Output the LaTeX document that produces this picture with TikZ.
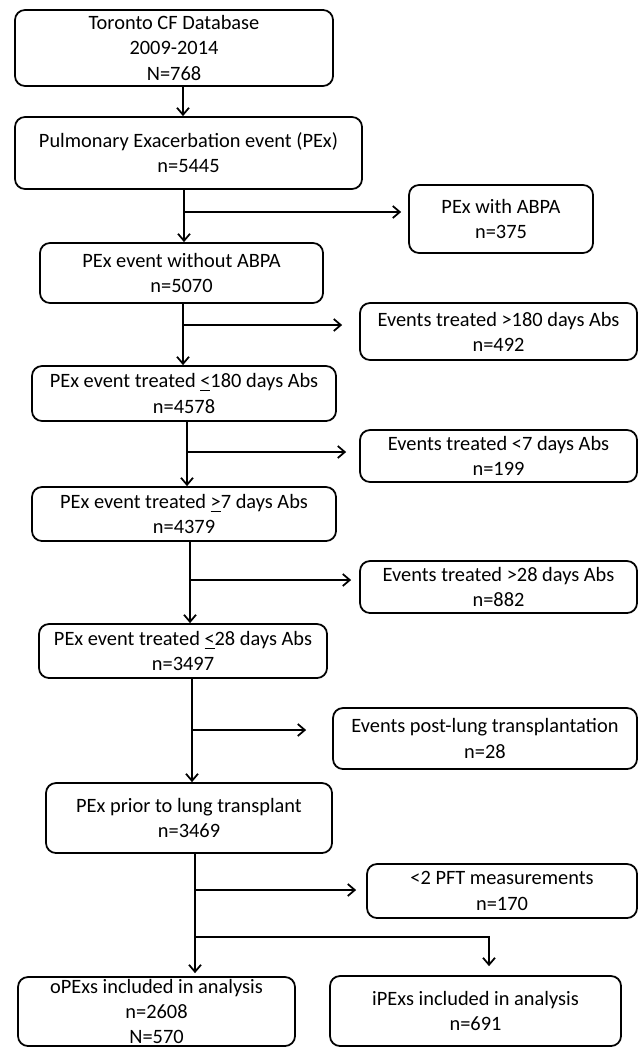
\documentclass[tikz,border=0pt]{standalone}
\usepackage{fontspec}
\setmainfont{Carlito}
\usetikzlibrary{arrows.meta, positioning, calc}

\begin{document}
\begin{tikzpicture}[x=0.2mm, y=-0.2mm,
  box/.style={draw, line width=1pt, rounded corners=2mm, align=center, inner sep=0pt,
              font=\fontsize{11.6}{14.3}\selectfont},
  arr/.style={-{Straight Barb[length=1.4mm,width=2.4mm]}, line width=1pt}]
  \useasboundingbox (0,0) rectangle (640,1048);
  % main column
  \node[box, minimum width=63.6mm, minimum height=15.2mm] (db) at (174,48) {Toronto CF Database\\2009-2014\\N=768};
  \node[box, minimum width=69.4mm, minimum height=14.4mm] (pex) at (188.5,153) {Pulmonary Exacerbation event (PEx)\\n=5445};
  \node[box, minimum width=56.6mm, minimum height=12mm] (noabpa) at (181.5,273) {PEx event without ABPA\\n=5070};
  \node[box, minimum width=60.8mm, minimum height=11mm] (le180) at (184,393.5) {PEx event treated \underline{<}180 days Abs\\n=4578};
  \node[box, minimum width=60.8mm, minimum height=10.8mm] (ge7) at (184,514) {PEx event treated \underline{>}7 days Abs\\n=4379};
  \node[box, minimum width=57.6mm, minimum height=10.8mm] (le28) at (183,651) {PEx event treated \underline{<}28 days Abs\\n=3497};
  \node[box, minimum width=57.2mm, minimum height=14mm] (prior) at (189,818) {PEx prior to lung transplant\\n=3469};
  \node[box, minimum width=55.4mm, minimum height=13.8mm] (opex) at (156.5,1011.5) {oPExs included in analysis\\n=2608\\N=570};
  \node[box, minimum width=58.2mm, minimum height=14mm] (ipex) at (475.5,1011) {iPExs included in analysis\\n=691};
  % exclusions
  \node[box, minimum width=36.8mm, minimum height=13.6mm] (abpa) at (501,219) {PEx with ABPA\\n=375};
  \node[box, minimum width=55.4mm, minimum height=11.4mm] (gt180) at (498.5,331.5) {Events treated >180 days Abs\\n=492};
  \node[box, minimum width=55.4mm, minimum height=10.4mm] (lt7) at (498.5,456) {Events treated <7 days Abs\\n=199};
  \node[box, minimum width=55.4mm, minimum height=10.4mm] (gt28) at (498.5,587) {Events treated >28 days Abs\\n=882};
  \node[box, minimum width=60.8mm, minimum height=12.2mm] (postlt) at (485,738.5) {Events post-lung transplantation\\n=28};
  \node[box, minimum width=54mm, minimum height=10.8mm] (pft) at (502,891) {<2 PFT measurements\\n=170};
  % junctions
  \coordinate (j0) at (183,100);
  \coordinate (j1) at (184,212);
  \coordinate (j2) at (183,325);
  \coordinate (j3) at (187,452);
  \coordinate (j4) at (190,580);
  \coordinate (j5) at (192,730);
  \coordinate (j6) at (195,890);
  \coordinate (j7) at (195,937);
  \coordinate (j8) at (489,937);
  % arrows
  \draw[arr] (db.south -| j0) -- (pex.north -| j0);
  \foreach \a/\b/\j/\s/\g in {pex/noabpa/j1/abpa/1.4mm, noabpa/le180/j2/gt180/3.4mm,
      le180/ge7/j3/lt7/2.6mm, ge7/le28/j4/gt28/1.6mm, le28/prior/j5/postlt/5.2mm}{
    \draw[arr] (\a.south -| \j) -- (\b.north -| \j);
    \draw[arr, shorten >=\g] (\j) -- (\j -| \s.west);
  }
  \draw[arr, shorten >=0.6mm] (prior.south -| j6) -- (opex.north -| j6);
  \draw[arr, shorten >=2mm] (j6) -- (j6 -| pft.west);
  \draw[arr, shorten >=1.8mm] (j7) -- (j8) -- (ipex.north -| j8);
\end{tikzpicture}
\end{document}
